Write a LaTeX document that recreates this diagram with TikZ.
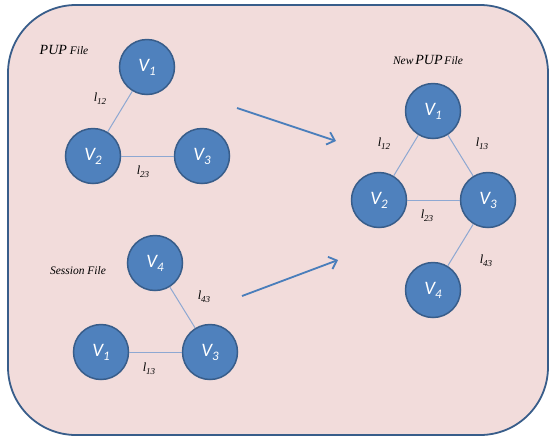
\documentclass[tikz,border=0pt]{standalone}
\usepackage{fontspec}
\setmainfont{Liberation Serif}
\newfontfamily\vfont{Carlito}
\usetikzlibrary{arrows.meta}
\definecolor{bgpink}{HTML}{F2DCDB}
\definecolor{frame}{HTML}{385D8A}
\definecolor{nodefill}{HTML}{4F81BD}
\definecolor{edgecol}{HTML}{8EA8D2}
\definecolor{arrowcol}{HTML}{4A7EBB}
\newcommand\vsub[2]{{\vfont\itshape #1\raisebox{-0.45ex}{\fontsize{13}{13}\selectfont #2}}}
\newcommand\lsub[1]{{\itshape l\raisebox{-0.5ex}{\fontsize{9}{9}\selectfont #1}}}
\begin{document}
\begin{tikzpicture}[x=1pt,y=-1pt,
  vert/.style={circle,draw=frame,line width=1.5pt,fill=nodefill,minimum size=55pt,inner sep=0pt,text=white,font=\fontsize{19}{19}\selectfont},
  edge/.style={draw=edgecol,line width=1pt},
  lab/.style={font=\fontsize{12.5}{12.5}\selectfont,inner sep=0pt},
  ttl/.style={font=\itshape\fontsize{11.5}{11.5}\selectfont,inner sep=0pt},
  bigarrow/.style={draw=arrowcol,line width=1.8pt,-{Straight Barb[length=7pt,width=13pt,line width=1.8pt]}}]
\useasboundingbox (0,0) rectangle (553,440);
\draw[fill=bgpink,draw=frame,line width=1.8pt,rounded corners=68pt] (8,5) rectangle (548,435);
% PUP File
\node[ttl] (t1) at (64,50) {{\fontsize{14}{14}\selectfont PUP} File};
\node[vert] (a1) at (147,67) {\vsub{V}{1}};
\node[vert] (a2) at (93,156) {\vsub{V}{2}};
\node[vert] (a3) at (202,156) {\vsub{V}{3}};
\draw[edge] (a1) -- (a2);
\draw[edge] (a2) -- (a3);
\node[lab] (la12) at (100,99) {\lsub{12}};
\node[lab] (la23) at (143,172) {\lsub{23}};
% Session File
\node[ttl] (t2) at (78,271) {Session File};
\node[vert] (b4) at (155,263) {\vsub{V}{4}};
\node[vert] (b1) at (101,352) {\vsub{V}{1}};
\node[vert] (b3) at (210,352) {\vsub{V}{3}};
\draw[edge] (b4) -- (b3);
\draw[edge] (b1) -- (b3);
\node[lab] (lb43) at (204,297) {\lsub{43}};
\node[lab] (lb13) at (149,369) {\lsub{13}};
% New PUP File
\node[ttl] (t3) at (428,60) {New\,{\fontsize{14}{14}\selectfont PUP}\,File};
\node[vert] (c1) at (433,111) {\vsub{V}{1}};
\node[vert] (c2) at (379,200) {\vsub{V}{2}};
\node[vert] (c3) at (488,200) {\vsub{V}{3}};
\node[vert] (c4) at (433,290) {\vsub{V}{4}};
\draw[edge] (c1) -- (c2);
\draw[edge] (c1) -- (c3);
\draw[edge] (c2) -- (c3);
\draw[edge] (c3) -- (c4);
\node[lab] (lc12) at (384,144) {\lsub{12}};
\node[lab] (lc13) at (482,144) {\lsub{13}};
\node[lab] (lc23) at (427,216) {\lsub{23}};
\node[lab] (lc43) at (486,261) {\lsub{43}};
% arrows
\coordinate (p1) at (237,108);
\coordinate (q1) at (336,141);
\coordinate (p2) at (242,296);
\coordinate (q2) at (338,260);
\draw[bigarrow] (p1) -- (q1);
\draw[bigarrow] (p2) -- (q2);
\end{tikzpicture}
\end{document}
